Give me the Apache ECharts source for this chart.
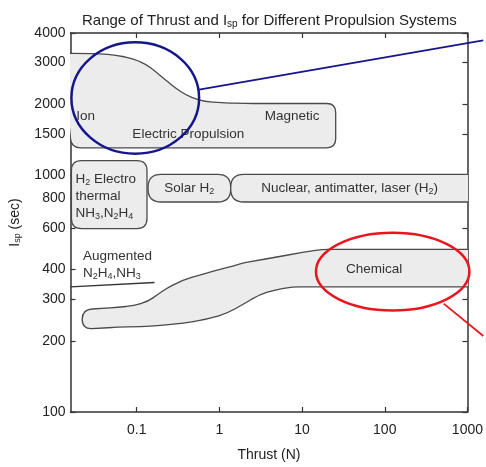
<!doctype html>
<html>
<head>
<meta charset="utf-8">
<title>Range of Thrust and Isp</title>
<style>
	html,body{height:100%;padding:0;margin:0;background:#fff;}
</style>
</head>
<body>
<div id="chart" style="width:486px;height:467px;"></div>
<script src="https://cdn.jsdelivr.net/npm/echarts@6/dist/echarts.min.js"></script>
<script>
// tick values
var xTicks = [0.1, 1, 10, 100, 1000];
var yTicks = [100, 200, 300, 400, 600, 800, 1000, 1500, 2000, 3000, 4000];

// electric propulsion region, outline traced clockwise (thrust N, Isp s)
var electricThrust = [0.0125, 0.0354, 0.056, 0.0888, 0.128, 0.169, 0.222, 0.293, 0.386, 0.509, 0.670, 1.06, 2.02, 25.5, 25.5, 0.0162];
var electricIsp    = [3280, 3270, 3224, 3123, 2957, 2747, 2536, 2342, 2197, 2108, 2053, 2028, 2014, 2014, 1308, 1308];

// chemical region
var chemThrust = [0.0219, 0.0592, 0.092, 0.1355, 0.178, 0.235, 0.366, 0.583, 0.933, 1.45, 1.91, 4.75, 12.1, 17.4, 1400, 1400, 12.1, 7.59, 4.75, 3.05, 1.91, 1.23, 0.708, 0.366, 0.147, 0.0592, 0.0219];
var chemIsp    = [271, 276.6, 281.8, 292.9, 313.3, 335, 361.6, 379.5, 398, 413.8, 425.9, 451, 477.7, 487, 487, 338, 338, 338, 328.6, 313.3, 284.5, 261, 246.5, 237.1, 230.4, 228.2, 224];

// rounded boxes: H2 electrothermal, solar H2, nuclear
var boxThrustLo = [0.0162, 0.137, 1.37];
var boxThrustHi = [0.133, 1.37, 1400];
var boxIspLo    = [596, 772, 772];
var boxIspHi    = [1155, 1010, 1010];

// augmented hydrazine line
var augThrust = [0.0158, 0.164];
var augIsp    = [338, 353];

// highlight ellipses (bounding corners) and leader lines
var blueEllipseThrust = [0.0162, 0.568];
var blueEllipseIsp    = [1235, 3652];
var blueLeaderThrust  = [0.568, 1555];
var blueLeaderIsp     = [2304, 3724];
var redEllipseThrust  = [14.72, 1057];
var redEllipseIsp     = [268.6, 573];
var redLeaderThrust   = [516, 1555];
var redLeaderIsp      = [287.3, 209.4];

// labels inside the chart
var labelText = [
	'Ion',
	'Electric Propulsion',
	'Magnetic',
	'H{s|2} Electro\nthermal\nNH{s|3},N{s|2}H{s|4}',
	'Solar H{s|2}',
	'Nuclear, antimatter, laser (H{s|2})',
	'Augmented\nN{s|2}H{s|4},NH{s|3}',
	'Chemical'
];
var labelThrust = [0.0186, 0.42, 7.6, 0.0181, 0.431, 37.6, 0.0224, 74.5];
var labelIsp    = [1778, 1496, 1778, 818, 883, 883, 418, 401];
var labelAlign  = ['left', 'center', 'center', 'left', 'center', 'center', 'left', 'center'];

var FONT = '"Liberation Sans", Arial, Helvetica, sans-serif';
var subStyle = function (size, pad) {
	return {s: {fontSize: size, padding: [pad, 0, 0, 0], fontFamily: FONT}};
};

function zip(xs, ys) {
	var out = [];
	for (var i = 0; i < xs.length; i++) out.push([xs[i], ys[i]]);
	return out;
}

// closed path through pixel points with rounded corners
function roundedPath(pts, r) {
	var n = pts.length, d = '';
	for (var i = 0; i < n; i++) {
		var p = pts[i], a = pts[(i - 1 + n) % n], b = pts[(i + 1) % n];
		var da = Math.hypot(a[0] - p[0], a[1] - p[1]);
		var db = Math.hypot(b[0] - p[0], b[1] - p[1]);
		var rr = Math.min(r, da / 2, db / 2);
		var p1 = [p[0] + (a[0] - p[0]) * rr / da, p[1] + (a[1] - p[1]) * rr / da];
		var p2 = [p[0] + (b[0] - p[0]) * rr / db, p[1] + (b[1] - p[1]) * rr / db];
		d += (i === 0 ? 'M' : 'L') + p1[0].toFixed(2) + ' ' + p1[1].toFixed(2);
		d += 'Q' + p[0].toFixed(2) + ' ' + p[1].toFixed(2) + ' ' + p2[0].toFixed(2) + ' ' + p2[1].toFixed(2);
	}
	return d + 'Z';
}

var regions = [
	{pts: zip(electricThrust, electricIsp), r: 9},
	{pts: zip(chemThrust, chemIsp), r: 10}
];
var boxRadius = [10, 13, 13];
for (var i = 0; i < boxThrustLo.length; i++) {
	regions.push({
		pts: [[boxThrustLo[i], boxIspHi[i]], [boxThrustHi[i], boxIspHi[i]], [boxThrustHi[i], boxIspLo[i]], [boxThrustLo[i], boxIspLo[i]]],
		r: boxRadius[i]
	});
}

var regionStyle = {fill: '#ececec', stroke: '#4a4a4a', lineWidth: 1.3};

function ellipsePath(c1, c2) {
	var cx = (c1[0] + c2[0]) / 2, cy = (c1[1] + c2[1]) / 2;
	var rx = Math.abs(c2[0] - c1[0]) / 2, ry = Math.abs(c2[1] - c1[1]) / 2;
	return 'M' + (cx - rx) + ' ' + cy +
		'A' + rx + ' ' + ry + ' 0 1 0 ' + (cx + rx) + ' ' + cy +
		'A' + rx + ' ' + ry + ' 0 1 0 ' + (cx - rx) + ' ' + cy + 'Z';
}

var notes = [
	{ell: zip(blueEllipseThrust, blueEllipseIsp), lead: zip(blueLeaderThrust, blueLeaderIsp), color: '#16168a'},
	{ell: zip(redEllipseThrust, redEllipseIsp), lead: zip(redLeaderThrust, redLeaderIsp), color: '#e8161e'}
];

var chart = echarts.init(document.getElementById('chart'));

var axisColor = '#333';
function xAxisCfg(pos, withLabels) {
	return {
		type: 'log', logBase: 10, min: 0.0158, max: 1000, position: pos,
		axisLine: {show: true, lineStyle: {color: axisColor, width: 1.5}},
		axisTick: {show: true, inside: true, length: 5, customValues: xTicks, lineStyle: {color: axisColor, width: 1.2}},
		axisLabel: {show: withLabels, customValues: xTicks, margin: 11, color: '#222', fontSize: 14, fontFamily: FONT,
			formatter: function (v) { return String(+(+v).toPrecision(6)); }},
		minorTick: {show: false},
		splitLine: {show: false},
		name: withLabels ? 'Thrust (N)' : '', nameLocation: 'middle', nameGap: 36,
		nameTextStyle: {color: '#222', fontSize: 14, fontFamily: FONT}
	};
}
function yAxisCfg(pos, withLabels) {
	return {
		type: 'log', logBase: 10, min: 100, max: 4000, position: pos,
		axisLine: {show: true, lineStyle: {color: axisColor, width: 1.5}},
		axisTick: {show: true, inside: true, length: 5, customValues: yTicks, lineStyle: {color: axisColor, width: 1.2}},
		axisLabel: {show: withLabels, customValues: yTicks, margin: 5, color: '#222', fontSize: 14, fontFamily: FONT,
			formatter: function (v) { return String(Math.round(v)); }},
		minorTick: {show: false},
		splitLine: {show: false},
		name: withLabels ? 'I{s|sp} (sec)' : '', nameLocation: 'middle', nameGap: 48, nameRotate: 90,
		nameTextStyle: {color: '#222', fontSize: 14, fontFamily: FONT, rich: subStyle(9, 6)}
	};
}

var option = {
	animation: false,
	backgroundColor: '#fff',
	title: {
		text: 'Range of Thrust and I{s|sp} for Different Propulsion Systems',
		left: 77, top: 8,
		textStyle: {fontSize: 15, fontWeight: 'normal', color: '#222', fontFamily: FONT, rich: subStyle(10, 6)}
	},
	grid: {left: 69, right: 16, top: 33, bottom: 50},
	xAxis: [xAxisCfg('bottom', true), xAxisCfg('top', false)],
	yAxis: [yAxisCfg('left', true), yAxisCfg('right', false)],
	series: [
		{
			type: 'custom', name: 'regions', clip: true, z: 2,
			data: regions.map(function (r) { return r.pts[0]; }),
			renderItem: function (params, api) {
				var reg = regions[params.dataIndex];
				var px = reg.pts.map(function (p) { return api.coord(p); });
				return {type: 'path', shape: {pathData: roundedPath(px, reg.r)}, style: regionStyle};
			}
		},
		{
			type: 'line', name: 'augmented', data: zip(augThrust, augIsp), symbol: 'none', z: 3,
			lineStyle: {color: '#333', width: 1.5}
		},
		{
			type: 'custom', name: 'labels', clip: false, z: 4,
			data: zip(labelThrust, labelIsp),
			renderItem: function (params, api) {
				var i = params.dataIndex;
				var p = api.coord([labelThrust[i], labelIsp[i]]);
				return {
					type: 'text',
					style: {
						text: labelText[i], x: p[0], y: p[1],
						align: labelAlign[i], verticalAlign: 'middle',
						fill: '#333', fontSize: 13.5, fontFamily: FONT, lineHeight: 17,
						rich: subStyle(9, 6)
					}
				};
			}
		},
		{
			type: 'custom', name: 'highlights', clip: false, z: 5,
			data: notes.map(function (n) { return n.ell[0]; }),
			renderItem: function (params, api) {
				var n = notes[params.dataIndex];
				var e1 = api.coord(n.ell[0]), e2 = api.coord(n.ell[1]);
				var l1 = api.coord(n.lead[0]), l2 = api.coord(n.lead[1]);
				return {
					type: 'group',
					children: [
						{type: 'path', shape: {pathData: ellipsePath(e1, e2)}, style: {fill: 'none', stroke: n.color, lineWidth: 2.5}},
						{type: 'line', shape: {x1: l1[0], y1: l1[1], x2: l2[0], y2: l2[1]}, style: {stroke: n.color, lineWidth: 1.8}}
					]
				};
			}
		}
	]
};

chart.setOption(option);
</script>
</body>
</html>
